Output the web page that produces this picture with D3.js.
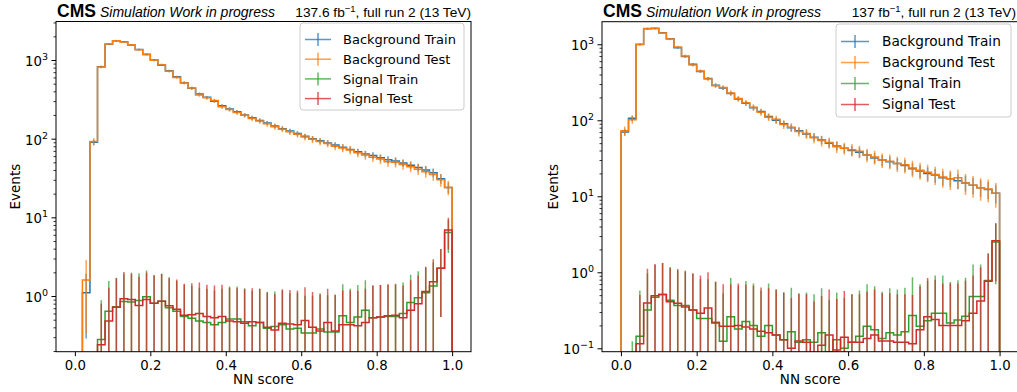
<!DOCTYPE html>
<html><head><meta charset="utf-8">
<script src="https://cdn.jsdelivr.net/npm/d3@7"></script>
<style>body{margin:0;background:#fff;} svg{display:block;}</style>
</head><body>
<svg id="chart" width="1017" height="392"></svg>
<script>
// ---------------- DATA ----------------
const binEdges = [0,0.02,0.04,0.06,0.08,0.1,0.12,0.14,0.16,0.18,0.2,0.22,0.24,0.26,0.28,0.3,0.32,0.34,0.36,0.38,0.4,0.42,0.44,0.46,0.48,0.5,0.52,0.54,0.56,0.58,0.6,0.62,0.64,0.66,0.68,0.7,0.72,0.74,0.76,0.78,0.8,0.82,0.84,0.86,0.88,0.9,0.92,0.94,0.96,0.98,1.0];
const seriesNames = ["Background Train","Background Test","Signal Train","Signal Test"];

const leftBkgTrain = [0,1.1,90,820,1580,1755,1705,1550,1360,1180,1000,860,730,612,515,436,370,335,300,262,238,220,200,185,170,158,145,134,125,116,107,100,94,88,83,78,73,68,64,61,57,54,52,49,46,43,40,37,31,24];
const leftBkgTest  = [0,1.6,92,815,1600,1760,1690,1560,1350,1170,990,870,720,600,510,440,360,330,305,255,235,215,198,180,168,155,142,132,122,114,105,98,92,87,80,76,72,66,62,58,55,51,50,47,44,41,38,35,30,24];
const leftSigTrain = [0,0,0,0.28,0.64,0.73,0.85,0.84,0.88,0.98,0.81,0.86,0.71,0.64,0.55,0.52,0.48,0.46,0.43,0.46,0.51,0.51,0.47,0.42,0.46,0.39,0.41,0.43,0.38,0.39,0.34,0.34,0.38,0.35,0.35,0.56,0.46,0.54,0.66,0.53,0.54,0.55,0.55,0.60,0.83,0.95,1.10,1.34,2.25,6.4];
const leftSigTest  = [0,0,0,0.24,0.48,0.72,0.92,0.90,0.76,0.90,0.81,0.86,0.75,0.68,0.57,0.58,0.60,0.55,0.53,0.55,0.48,0.47,0.45,0.47,0.46,0.40,0.37,0.45,0.44,0.43,0.49,0.40,0.36,0.46,0.36,0.43,0.43,0.42,0.46,0.53,0.54,0.56,0.57,0.53,0.66,0.80,1.14,1.52,2.25,6.9];
// per-event weights of each sample (error = sqrt(sum w^2) ~ sqrt(w * content))
const leftWeights = [0.6, 1.0, 1.3, 1.3];

const rightBkgTrain = [70,106,990,1600,1620,1420,1180,900,690,545,440,355,290,265,225,190,168,146,130,112,100,90,80,73,66,60,55,50,46,43,40,38,35,32,30,28.5,27,25.5,23,21.5,20,19,17.5,17,16,15,14,13,12.3,11];
const rightBkgTest  = [73,102,1000,1610,1600,1410,1170,920,700,535,445,350,285,270,228,193,170,148,128,110,103,88,81,71,67,59,54,51,45,43,41,39,35,33,30,29,27,26,23.6,22,20.7,19.3,18,17,17.5,15,14,13,12.5,11];
const rightSigTrain = [0,0.01,0.144,0.32,0.47,0.51,0.43,0.365,0.365,0.32,0.246,0.246,0.22,0.124,0.26,0.18,0.226,0.2,0.144,0.2,0.15,0.13,0.165,0.12,0.13,0.12,0.16,0.09,0.13,0.10,0.12,0.144,0.195,0.176,0.135,0.16,0.15,0.165,0.27,0.195,0.23,0.29,0.29,0.216,0.235,0.264,0.48,0.48,0.78,2.5];
const rightSigTest  = [0,0,0.115,0.395,0.49,0.51,0.41,0.39,0.35,0.32,0.29,0.34,0.215,0.195,0.195,0.2,0.19,0.18,0.167,0.16,0.15,0.13,0.10,0.125,0.12,0.085,0.11,0.15,0.095,0.14,0.12,0.12,0.135,0.15,0.125,0.125,0.12,0.12,0.115,0.175,0.26,0.24,0.2,0.2,0.2,0.23,0.29,0.42,0.76,2.6];
const rightWeights = [0.8, 1.4, 1.3, 1.3];

const xTicks = [0,0.2,0.4,0.6,0.8,1.0];
const xTickLabels = ["0.0","0.2","0.4","0.6","0.8","1.0"];
const leftYTicks = [1,10,100,1000];
const rightYTicks = [0.1,1,10,100,1000];
const leftLumi = "137.6 fb";
const rightLumi = "137 fb";

// ---------------- STYLE / LAYOUT ----------------
const colors = ["#1f77b4","#ff7f0e","#2ca02c","#d62728"];
const svg = d3.select("#chart");
const tickFont = "'DejaVu Sans', sans-serif";
const headFont = "'Liberation Sans', Arial, sans-serif";

function drawPanel(p) {
  const x = d3.scaleLinear().domain([-0.05, 1.05]).range([p.x0, p.x1]);
  const y = d3.scaleLog().domain(p.yDomain).range([p.y1, p.y0]);
  const g = svg.append("g");
  const clipId = "clip" + p.id;
  svg.append("defs").append("clipPath").attr("id", clipId)
    .append("rect").attr("x", p.x0).attr("y", p.y0).attr("width", p.x1 - p.x0).attr("height", p.y1 - p.y0);
  const plot = g.append("g").attr("clip-path", `url(#${clipId})`);
  const below = p.y1 + 40;
  const yv = v => v > 0 ? y(v) : below;

  // histogram steps
  p.series.forEach((vals, si) => {
    const pts = [[binEdges[0], 0]];
    vals.forEach((v, i) => { pts.push([binEdges[i], v]); pts.push([binEdges[i+1], v]); });
    pts.push([binEdges[binEdges.length-1], 0]);
    const line = d3.line().x(d => x(d[0])).y(d => yv(d[1]));
    plot.append("path").attr("d", line(pts)).attr("fill", "none")
      .attr("stroke", colors[si]).attr("stroke-width", 1.5).attr("stroke-linejoin", "miter");
  });
  // error bars
  p.series.forEach((vals, si) => {
    const w = p.weights[si];
    vals.forEach((v, i) => {
      if (!(v > 0)) return;
      const err = Math.sqrt(w * v);
      const c = (binEdges[i] + binEdges[i+1]) / 2;
      plot.append("line").attr("x1", x(c)).attr("x2", x(c))
        .attr("y1", yv(v - err)).attr("y2", y(v + err))
        .attr("stroke", colors[si]).attr("stroke-width", 1.5).attr("stroke-opacity", 0.72);
    });
  });

  // axes
  const xAxis = d3.axisBottom(x).tickValues(xTicks).tickFormat((d, i) => xTickLabels[i]).tickSize(4.5).tickPadding(4);
  const gx = g.append("g").attr("transform", `translate(0,${p.y1})`).call(xAxis);
  gx.select(".domain").remove();
  gx.selectAll("text").attr("font-family", tickFont).attr("font-size", 13.3).attr("fill", "#000");
  gx.selectAll("line").attr("stroke", "#000").attr("stroke-width", 1);

  const minor = y.ticks().filter(t => Math.abs(Math.log10(t) - Math.round(Math.log10(t))) > 1e-6);
  const gm = g.append("g").attr("transform", `translate(${p.x0},0)`)
    .call(d3.axisLeft(y).tickValues(minor).tickFormat("").tickSize(2.5));
  gm.select(".domain").remove();
  gm.selectAll("line").attr("stroke", "#000").attr("stroke-width", 0.8);

  const gy = g.append("g").attr("transform", `translate(${p.x0},0)`)
    .call(d3.axisLeft(y).tickValues(p.yTicks).tickSize(4.5).tickPadding(3.5));
  gy.select(".domain").remove();
  gy.selectAll("line").attr("stroke", "#000").attr("stroke-width", 1);
  gy.selectAll("text").each(function(d) {
    const t = d3.select(this);
    const e = Math.round(Math.log10(d));
    t.text(null).attr("font-family", tickFont).attr("font-size", 13.3).attr("fill", "#000").attr("dy", "0.42em");
    t.append("tspan").text("10");
    t.append("tspan").attr("font-size", 9.5).attr("dy", -6).text(e < 0 ? "\u2212" + (-e) : String(e));
  });

  // frame
  g.append("rect").attr("x", p.x0).attr("y", p.y0).attr("width", p.x1 - p.x0).attr("height", p.y1 - p.y0)
    .attr("fill", "none").attr("stroke", "#000").attr("stroke-width", 1);

  // labels
  g.append("text").attr("x", (p.x0 + p.x1) / 2).attr("y", 384).attr("text-anchor", "middle")
    .attr("font-family", tickFont).attr("font-size", 13.5).text("NN score");
  g.append("text").attr("transform", `translate(${p.ylabX},${(p.y0 + p.y1) / 2}) rotate(-90)`)
    .attr("text-anchor", "middle").attr("dy", "0.35em")
    .attr("font-family", tickFont).attr("font-size", 13.5).text("Events");

  // header
  g.append("text").attr("x", p.x0 + 1).attr("y", 17).attr("font-family", headFont)
    .attr("font-weight", "bold").attr("font-size", 17.5).text("CMS");
  g.append("text").attr("x", p.x0 + 44).attr("y", 17).attr("font-family", headFont)
    .attr("font-style", "italic").attr("font-size", 14).text("Simulation Work in progress");
  const lt = g.append("text").attr("x", p.lumiX).attr("y", 17).attr("text-anchor", "end")
    .attr("font-family", headFont).attr("font-size", 13.7);
  lt.append("tspan").text(p.lumi);
  lt.append("tspan").attr("font-size", 9.5).attr("dy", -5.5).text("\u22121");
  lt.append("tspan").attr("dy", 5.5).text(", full run 2 (13 TeV)");

  // legend
  const L = p.legend;
  g.append("rect").attr("x", L.x).attr("y", L.y).attr("width", L.w).attr("height", L.h)
    .attr("rx", 3).attr("fill", "#fff").attr("fill-opacity", 0.8).attr("stroke", "#cccccc").attr("stroke-width", 1);
  seriesNames.forEach((name, i) => {
    const cy = L.y + L.first + i * L.step;
    g.append("line").attr("x1", L.hx).attr("x2", L.hx + L.hl).attr("y1", cy).attr("y2", cy)
      .attr("stroke", colors[i]).attr("stroke-width", 1.5).attr("stroke-opacity", 0.75);
    g.append("line").attr("x1", L.hx + L.hl / 2).attr("x2", L.hx + L.hl / 2).attr("y1", cy - 6.5).attr("y2", cy + 6.5)
      .attr("stroke", colors[i]).attr("stroke-width", 1.5).attr("stroke-opacity", 0.75);
    g.append("text").attr("x", L.tx).attr("y", cy).attr("dy", "0.36em")
      .attr("font-family", tickFont).attr("font-size", L.fs).text(name);
  });
}

drawPanel({
  id: "L", x0: 56, x1: 471, y0: 21.5, y1: 351.7, yDomain: [0.196, 3085],
  yTicks: leftYTicks, ylabX: 15, lumi: leftLumi, lumiX: 471,
  series: [leftBkgTrain, leftBkgTest, leftSigTrain, leftSigTest], weights: leftWeights,
  legend: {x: 300, y: 23, w: 164, h: 87, first: 16.5, step: 19.7, hx: 305, hl: 26, tx: 343, fs: 13}
});
drawPanel({
  id: "R", x0: 602, x1: 1018.5, y0: 21.7, y1: 351.7, yDomain: [0.0902, 1982],
  yTicks: rightYTicks, ylabX: 553, lumi: rightLumi, lumiX: 1016,
  series: [rightBkgTrain, rightBkgTest, rightSigTrain, rightSigTest], weights: rightWeights,
  legend: {x: 836, y: 24, w: 175, h: 93, first: 17.5, step: 21, hx: 841, hl: 28, tx: 882, fs: 13.7}
});
</script>
</body></html>
